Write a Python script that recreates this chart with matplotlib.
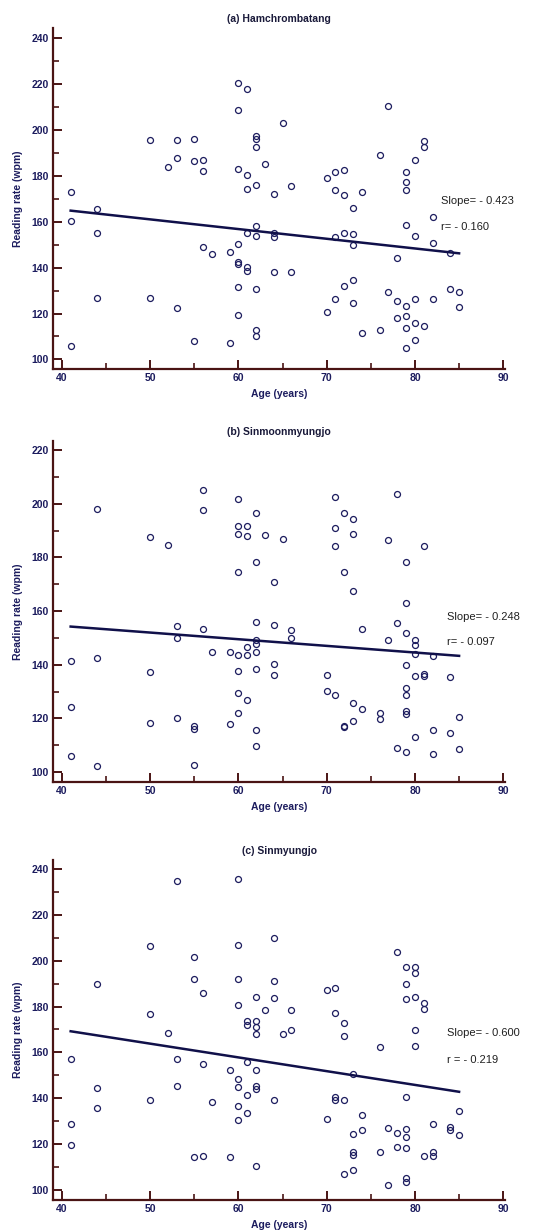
import numpy as np
import matplotlib
matplotlib.use("Agg")
import matplotlib.pyplot as plt
from matplotlib.ticker import MultipleLocator

plt.rcParams['font.family'] = ['Liberation Sans', 'DejaVu Sans']

# (a) Hamchrombatang
age_a = [50, 53, 55, 52, 53, 55, 56, 56, 60, 61,
         60, 65, 62, 62, 62, 63, 60, 61, 77, 81,
         81, 76, 80, 79, 70, 71, 72, 61, 62, 66,
         64, 71, 72, 74, 79, 79, 41, 41, 44, 44,
         44, 41, 50, 53, 55, 56, 57, 59, 60, 60,
         60, 61, 61, 60, 60, 59, 62, 62, 61, 64,
         64, 64, 66, 62, 62, 62, 71, 72, 73, 73,
         73, 72, 73, 71, 73, 70, 74, 76, 77, 78,
         78, 78, 79, 79, 79, 79, 79, 80, 80, 80,
         80, 81, 82, 82, 82, 84, 84, 85, 85]
rate_a = [195.7, 195.7, 196.2, 184.1, 187.8, 186.7, 187.0, 182.2, 220.4, 217.8,
          208.8, 202.9, 197.5, 196.1, 192.8, 185.2, 182.8, 180.4, 210.6, 195.1,
          192.8, 189.0, 187.1, 181.9, 179.1, 181.9, 182.5, 174.5, 176.0, 175.7,
          171.9, 173.7, 171.6, 172.8, 173.7, 177.4, 172.8, 160.4, 165.5, 154.9,
          126.7, 105.8, 126.6, 122.4, 108.0, 149.2, 146.0, 146.9, 150.3, 142.6,
          141.5, 140.1, 138.6, 131.5, 119.3, 107.2, 158.0, 153.9, 154.9, 154.9,
          153.2, 138.2, 137.9, 130.9, 112.6, 110.3, 153.2, 154.9, 154.6, 150.0,
          166.1, 132.2, 134.6, 126.3, 124.4, 120.5, 111.5, 112.9, 129.5, 144.2,
          125.6, 118.0, 158.5, 123.1, 118.9, 113.6, 104.9, 153.9, 126.4, 116.0,
          108.4, 114.7, 161.9, 150.7, 126.4, 146.2, 130.6, 129.2, 122.8]

# (b) Sinmoonmyungjo
age_b = [44, 50, 52, 56, 56, 60, 62, 60, 61, 60,
         61, 63, 65, 62, 60, 64, 71, 72, 73, 71,
         73, 71, 72, 73, 78, 77, 81, 79, 79, 41,
         41, 41, 44, 44, 50, 50, 53, 53, 53, 55,
         55, 55, 56, 57, 59, 59, 60, 60, 60, 60,
         61, 61, 61, 62, 62, 62, 62, 62, 62, 62,
         64, 64, 64, 66, 66, 70, 70, 71, 72, 72,
         73, 73, 74, 74, 76, 76, 77, 78, 78, 79,
         79, 79, 79, 79, 79, 79, 80, 80, 80, 80,
         80, 81, 81, 82, 82, 82, 84, 84, 85, 85]
rate_b = [197.9, 187.5, 184.7, 205.1, 197.6, 201.7, 196.7, 191.7, 191.7, 188.7,
          188.0, 188.5, 187.0, 178.4, 174.6, 171.0, 202.5, 196.4, 194.5, 190.9,
          188.7, 184.1, 174.6, 167.5, 203.5, 186.6, 184.1, 178.2, 163.0, 141.4,
          124.2, 106.0, 142.4, 102.1, 137.3, 118.3, 154.4, 150.1, 120.1, 117.0,
          116.1, 102.5, 153.3, 144.7, 144.7, 117.8, 143.7, 137.8, 129.3, 122.2,
          146.7, 143.7, 126.7, 156.0, 149.1, 147.6, 144.7, 138.3, 115.5, 109.8,
          154.7, 140.4, 136.3, 152.9, 150.1, 136.3, 130.4, 128.8, 117.3, 116.8,
          125.8, 118.9, 123.6, 153.4, 121.9, 119.6, 149.1, 155.5, 108.8, 152.0,
          139.9, 131.3, 128.9, 122.6, 121.7, 107.6, 149.3, 147.5, 144.1, 135.7,
          113.0, 136.6, 135.8, 143.2, 115.8, 106.8, 135.3, 114.5, 120.7, 108.6]

# (c) Sinmyungjo
age_c = [53, 60, 50, 60, 64, 55, 55, 60, 64, 44,
         56, 62, 64, 70, 71, 78, 79, 80, 80, 79,
         79, 80, 60, 50, 63, 66, 71, 81, 81, 61,
         61, 62, 62, 62, 65, 66, 72, 72, 76, 80,
         80, 52, 41, 41, 41, 44, 44, 50, 53, 53,
         55, 56, 56, 57, 59, 59, 60, 60, 60, 60,
         61, 61, 61, 62, 62, 62, 62, 64, 70, 71,
         71, 72, 72, 73, 73, 73, 73, 73, 74, 74,
         76, 77, 77, 78, 78, 79, 79, 79, 79, 79,
         79, 81, 82, 82, 82, 84, 84, 85, 85]
rate_c = [234.8, 235.4, 206.4, 206.7, 209.7, 201.6, 192.0, 192.0, 191.2, 190.0,
          186.1, 184.3, 183.8, 187.1, 188.1, 203.8, 197.4, 197.4, 194.6, 189.6,
          183.3, 184.3, 180.7, 176.6, 178.4, 178.4, 177.2, 181.5, 179.0, 173.7,
          172.1, 173.7, 171.1, 167.9, 167.9, 169.9, 173.0, 167.2, 162.3, 169.9,
          162.9, 168.6, 156.9, 128.9, 119.6, 144.5, 135.8, 139.1, 157.2, 145.5,
          114.5, 154.9, 114.6, 138.2, 152.4, 114.5, 148.2, 145.1, 136.4, 130.5,
          155.8, 141.2, 133.7, 152.4, 145.5, 144.1, 110.5, 139.1, 130.8, 140.7,
          139.4, 139.4, 106.9, 150.7, 124.4, 116.6, 115.2, 108.8, 132.6, 126.1,
          116.5, 126.9, 102.0, 124.7, 118.8, 140.6, 126.7, 123.1, 118.2, 105.4,
          103.6, 114.6, 128.9, 116.6, 114.6, 127.6, 126.1, 134.3, 124.1]

titles = ['(a) Hamchrombatang', '(b) Sinmoonmyungjo', '(c) Sinmyungjo']
slopes = [-0.423, -0.248, -0.600]
intercepts = [182.2, 164.4, 193.8]
slope_labels = ['Slope= - 0.423', 'Slope= - 0.248', 'Slope= - 0.600']
r_labels = ['r= - 0.160', 'r= - 0.097', 'r = - 0.219']

W, H = 549, 1232
fig = plt.figure(figsize=(W / 100, H / 100), dpi=100)

navy = '#1c1c5e'
spine_col = '#4a1414'

# axes boxes in pixels: left, top, right, bottom
boxes = [(53, 28, 505, 369), (53, 441, 505, 782), (53, 860, 505, 1200)]
ylims = [(95.8, 244.5), (96.3, 223.4), (95.6, 243.9)]
txt_pos = [((441, 201), (441, 227)), ((447, 617), (447, 642)), ((447, 1033), (447, 1060))]

ages = [age_a, age_b, age_c]
rates = [rate_a, rate_b, rate_c]

for i in range(3):
    l, t, r, b = boxes[i]
    ax = fig.add_axes([l / W, 1 - b / H, (r - l) / W, (b - t) / H])
    x = np.array(ages[i])
    y = np.array(rates[i])
    ax.plot(x, y, 'o', mfc='none', mec=navy, ms=4.3, mew=0.9, ls='none')
    xl = np.array([x.min(), x.max()])
    ax.plot(xl, intercepts[i] + slopes[i] * xl, color='#10104a', lw=1.8)

    ax.set_xlim(39, 90.2)
    ax.set_ylim(*ylims[i])
    ax.xaxis.set_major_locator(MultipleLocator(10))
    ax.xaxis.set_minor_locator(MultipleLocator(5))
    ax.yaxis.set_major_locator(MultipleLocator(20))
    ax.yaxis.set_minor_locator(MultipleLocator(10))
    for s in ['top', 'right']:
        ax.spines[s].set_visible(False)
    for s in ['left', 'bottom']:
        ax.spines[s].set_color(spine_col)
        ax.spines[s].set_linewidth(1.6)
    ax.tick_params(which='major', direction='in', length=6.5, width=1.4,
                   color=spine_col, labelsize=7.5, labelcolor=navy, pad=3)
    ax.tick_params(which='minor', direction='in', length=4.5, width=1.2,
                   color=spine_col)
    for lab in ax.get_xticklabels() + ax.get_yticklabels():
        lab.set_fontweight('bold')

    ax.set_title(titles[i], fontsize=7.5, fontweight='bold', color='#1a1a3a', pad=4)
    ax.set_xlabel('Age (years)', fontsize=7.5, fontweight='bold', color=navy, labelpad=4)
    ax.set_ylabel('Reading rate (wpm)', fontsize=7.5, fontweight='bold', color=navy, labelpad=6)

    (sx, sy), (rx, ry) = txt_pos[i]
    fig.text(sx / W, 1 - sy / H, slope_labels[i], fontsize=8, color='#202020', va='center')
    fig.text(rx / W, 1 - ry / H, r_labels[i], fontsize=8, color='#202020', va='center')

fig.savefig('out.png', dpi=100, facecolor='white')
